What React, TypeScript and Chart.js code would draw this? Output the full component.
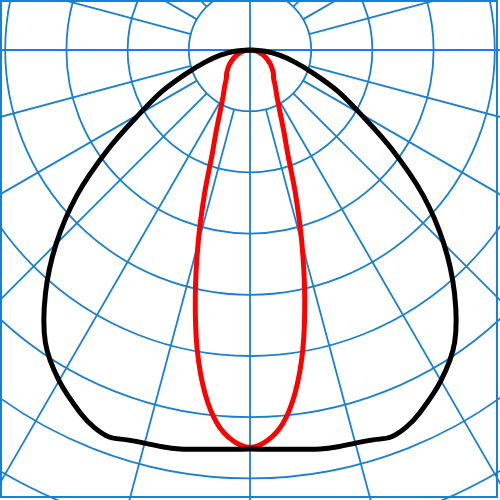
import { useEffect, useRef } from "react";
import { Chart, registerables } from "chart.js";

Chart.register(...registerables);

// angle from nadir (deg), one half of a symmetric distribution
const angles = [0, 2.5, 5, 7.5, 10, 12.5, 15, 17.5, 20, 22.5, 25, 30, 35, 40, 45, 50, 55, 60, 65, 70, 75, 80, 85, 90];

// wide beam (black)
const wideBeam = [652, 653, 655, 658, 662, 664, 665, 668, 673, 667, 655, 624, 583, 520, 448, 369, 283, 208, 157, 109, 75, 49, 25, 0];

// narrow beam (red)
const narrowBeam = [649, 639, 613, 565, 497, 413, 328, 248, 180, 145, 119, 88, 72, 60, 54, 47, 41, 34, 28, 22, 16, 11, 6, 0];

// grid
const rings = [100, 200, 300, 400, 500, 600, 700, 800, 900];
const spokes = [0, 15, 30, 45, 60, 75, 90, 105, 120, 135, 150, 165, 180, 195, 210, 225, 240, 255, 270, 285, 300, 315, 330, 345];

const GRID = "#1780d4";

// turn the half curve into x/y points, mirrored left to right
function toPoints(values: number[]) {
  const pts: { x: number; y: number }[] = [];
  for (let i = angles.length - 1; i >= 0; i--) {
    const a = (-angles[i] * Math.PI) / 180;
    pts.push({ x: values[i] * Math.sin(a), y: -values[i] * Math.cos(a) });
  }
  for (let i = 1; i < angles.length; i++) {
    const a = (angles[i] * Math.PI) / 180;
    pts.push({ x: values[i] * Math.sin(a), y: -values[i] * Math.cos(a) });
  }
  return pts;
}

const polarGrid = {
  id: "polarGrid",
  beforeDatasetsDraw(chart: any) {
    const { ctx, chartArea, scales } = chart;
    const cx = scales.x.getPixelForValue(0);
    const cy = scales.y.getPixelForValue(0);
    const k = scales.x.getPixelForValue(100) - cx;
    ctx.save();
    ctx.beginPath();
    ctx.rect(chartArea.left, chartArea.top, chartArea.right - chartArea.left, chartArea.bottom - chartArea.top);
    ctx.clip();
    ctx.strokeStyle = GRID;
    ctx.lineWidth = 1.8;
    rings.forEach((r) => {
      ctx.beginPath();
      ctx.arc(cx, cy, (r / 100) * k, 0, Math.PI * 2);
      ctx.stroke();
    });
    const outer = 12 * k;
    spokes.forEach((deg) => {
      const a = (deg * Math.PI) / 180;
      const start = deg % 90 === 0 ? 0 : k;
      const dx = Math.sin(a);
      const dy = Math.cos(a);
      ctx.beginPath();
      ctx.moveTo(cx + dx * start, cy + dy * start);
      ctx.lineTo(cx + dx * outer, cy + dy * outer);
      ctx.stroke();
    });
    ctx.lineWidth = 2;
    ctx.strokeRect(chartArea.left + 1, chartArea.top + 1, 496, 496);
    ctx.restore();
  },
};

export default function App() {
  const canvasRef = useRef<HTMLCanvasElement | null>(null);
  const chartInstance = useRef<Chart | null>(null);

  useEffect(() => {
    if (!canvasRef.current) return;
    if (chartInstance.current) chartInstance.current.destroy();

    chartInstance.current = new Chart(canvasRef.current, {
      type: "scatter",
      data: {
        datasets: [
          {
            data: toPoints(wideBeam),
            showLine: true,
            borderColor: "#000000",
            borderWidth: 5,
            pointRadius: 0,
            tension: 0.35,
          },
          {
            data: toPoints(narrowBeam),
            showLine: true,
            borderColor: "#ff0000",
            borderWidth: 5,
            pointRadius: 0,
            tension: 0.35,
          },
        ],
      },
      options: {
        animation: false,
        responsive: true,
        maintainAspectRatio: false,
        layout: { padding: 0 },
        plugins: { legend: { display: false }, tooltip: { enabled: false } },
        scales: {
          x: { type: "linear", min: -408.5, max: 408.5, display: false },
          y: { type: "linear", min: -735.3, max: 81.7, display: false },
        },
      },
      plugins: [polarGrid],
    });

    return () => {
      if (chartInstance.current) {
        chartInstance.current.destroy();
        chartInstance.current = null;
      }
    };
  }, []);

  return (
    <div style={{ position: "fixed", left: 0, top: 0, width: 500, height: 500, background: "#ffffff" }}>
      <canvas ref={canvasRef}></canvas>
    </div>
  );
}
